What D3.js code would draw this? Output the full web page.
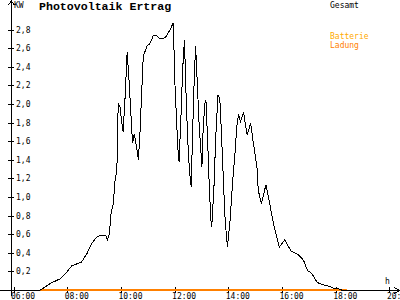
<!DOCTYPE html>
<html>
<head>
<meta charset="utf-8">
<script src="https://cdn.jsdelivr.net/npm/d3@7"></script>
<style>
body { margin: 0; background: #fff; }
svg { display: block; font-family: "DejaVu Sans Mono", monospace; }
</style>
</head>
<body>
<div id="chart"></div>
<script>
// Ertrag (kW) ueber den Tag
var times = ["07:00","07:22","07:44","07:59","08:10","08:21","08:32","08:44","08:55","09:06",
  "09:17","09:27","09:30","09:34","09:38","09:43","09:47","09:51","09:54","09:58",
  "10:03","10:05","10:09","10:14","10:19","10:23","10:26","10:30","10:35","10:39",
  "10:43","10:46","10:50","10:58","11:05","11:12","11:18","11:27","11:35","11:42",
  "11:50","11:57","12:01","12:05","12:08","12:10","12:14","12:18","12:22","12:25",
  "12:29","12:33","12:37","12:40","12:44","12:47","12:51","12:55","12:59","13:01",
  "13:04","13:08","13:10","13:14","13:17","13:21","13:23","13:28","13:32","13:37",
  "13:41","13:45","13:49","13:53","13:58","14:04","14:10","14:15","14:19","14:23",
  "14:27","14:34","14:38","14:42","14:50","14:56","15:04","15:07","15:14","15:24",
  "15:29","15:41","15:54","16:06","16:20","16:36","16:48","16:57","17:06","17:19",
  "17:36","17:47","17:58","18:02","18:13","18:25"];
var gesamt = [0,0.07,0.12,0.19,0.26,0.28,0.30,0.39,0.50,0.57,
  0.59,0.58,0.54,0.60,0.82,0.93,1.18,1.29,2.01,1.97,
  1.76,1.70,2.04,2.56,2.19,1.83,1.58,1.68,1.54,1.40,
  1.72,2.08,2.51,2.62,2.65,2.73,2.74,2.70,2.70,2.73,
  2.80,2.87,2.19,1.76,1.47,1.38,1.83,2.37,2.69,2.19,
  1.65,1.29,1.11,1.65,2.29,2.62,2.19,1.76,1.47,1.32,
  1.76,2.01,2.04,1.58,1.18,0.75,0.68,1.11,1.65,2.10,
  2.06,1.65,1.18,0.75,0.46,0.75,1.18,1.47,1.76,1.89,
  1.81,1.91,1.79,1.67,1.79,1.58,1.32,1.07,0.93,1.13,
  1.02,0.71,0.46,0.54,0.42,0.38,0.32,0.21,0.18,0.08,
  0.05,0.04,0.01,0.02,0,0];
// Batterie Ladung
var ladungTimes = ["07:00","18:25"];
var ladung = [0, 0];
var yTicks = [0.2,0.4,0.6,0.8,1.0,1.2,1.4,1.6,1.8,2.0,2.2,2.4,2.6,2.8];

var W = 400, H = 300;
var parse = d3.timeParse("%H:%M");
var svg = d3.select("#chart").append("svg").attr("width", W).attr("height", H);

var x = d3.scaleTime().domain([parse("06:00"), parse("20:00")]).range([13.5, 389.4]);
var y = d3.scaleLinear().domain([0, 2.8]).range([290, 29.5]);
var fmt = d3.format(".1f");

// y axis ticks + labels
var yAxis = d3.axisRight(y).tickValues(yTicks).tickSize(6).tickPadding(2)
  .tickFormat(function(d){ return fmt(d).replace(".", ","); });
var gy = svg.append("g").attr("transform", "translate(8,0)").call(yAxis);
gy.select(".domain").remove();
gy.selectAll("line").attr("stroke", "#000").attr("shape-rendering", "crispEdges");
gy.selectAll("text").attr("font-size", "8px").attr("fill", "#000").attr("font-family", "DejaVu Sans Mono");

// x axis ticks + labels
var xAxis = d3.axisBottom(x).ticks(d3.timeHour.every(2)).tickSize(6).tickFormat(d3.timeFormat("%H:%M"));
var gx = svg.append("g").attr("transform", "translate(0,287)").call(xAxis);
gx.select(".domain").remove();
gx.selectAll("line").attr("stroke", "#000").attr("shape-rendering", "crispEdges");
gx.selectAll("text").attr("font-size", "8px").attr("fill", "#000").attr("font-family", "DejaVu Sans Mono")
  .attr("text-anchor", "start").attr("x", -3).attr("y", 12).attr("dy", null);

// axis lines with arrows
svg.append("path").attr("d", "M0,290.5H399.5 M394,287.5L399.5,290.5L394,293.5")
  .attr("fill", "none").attr("stroke", "#000").attr("shape-rendering", "crispEdges");
svg.append("path").attr("d", "M11.5,296V1 M8.5,5L11.5,1L14.5,5")
  .attr("fill", "none").attr("stroke", "#000").attr("shape-rendering", "crispEdges");

svg.append("text").attr("x", 14).attr("y", 8).attr("font-size", "8px").text("KW");
svg.append("text").attr("x", 385).attr("y", 284).attr("font-size", "8px").text("h");

// series
var line = d3.line().x(function(d){ return x(parse(d[0])); }).y(function(d){ return y(d[1]); });
svg.append("path").datum(d3.zip(ladungTimes, ladung)).attr("d", line)
  .attr("fill", "none").attr("stroke", "#ff8000").attr("stroke-width", 2);
svg.append("path").datum(d3.zip(times, gesamt)).attr("d", line)
  .attr("fill", "none").attr("stroke", "#000").attr("stroke-width", 1).attr("shape-rendering", "crispEdges");

// title + legend
svg.append("text").attr("x", 39).attr("y", 10).attr("font-size", "11.6px").attr("font-weight", "bold")
  .attr("font-family", "Liberation Mono").text("Photovoltaik Ertrag");
svg.append("text").attr("x", 330).attr("y", 7.5).attr("font-size", "8px").attr("fill", "#000").text("Gesamt");
svg.append("text").attr("x", 330).attr("y", 38.5).attr("font-size", "8px").attr("fill", "#ffaa00").text("Batterie");
svg.append("text").attr("x", 330).attr("y", 47.5).attr("font-size", "8px").attr("fill", "#ff8000").text("Ladung");
</script>
</body>
</html>
